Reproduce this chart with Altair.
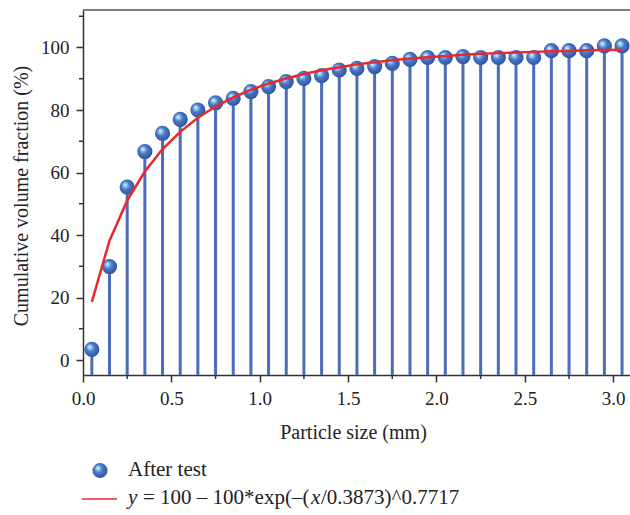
import altair as alt
import pandas as pd

# ---- data ----
sizes = [0.05, 0.15, 0.25, 0.35, 0.45, 0.55, 0.65, 0.75, 0.85, 0.95,
         1.05, 1.15, 1.25, 1.35, 1.45, 1.55, 1.65, 1.75, 1.85, 1.95,
         2.05, 2.15, 2.25, 2.35, 2.45, 2.55, 2.65, 2.75, 2.85, 2.95, 3.05]
after_test = [3.4, 29.9, 55.3, 66.7, 72.5, 77.0, 80.0, 82.3, 83.7, 85.9,
              87.5, 89.1, 90.1, 91.0, 92.8, 93.3, 93.9, 94.9, 96.2, 96.8,
              96.8, 97.1, 96.8, 96.8, 96.8, 96.8, 99.0, 99.0, 99.0, 100.5, 100.5]
fit_curve = [18.6, 38.2, 51.0, 60.3, 67.5, 73.0, 77.5, 81.1, 84.0, 86.5,
             88.5, 90.1, 91.5, 92.7, 93.7, 94.6, 95.3, 95.9, 96.5, 96.9,
             97.3, 97.7, 98.0, 98.2, 98.4, 98.6, 98.8, 98.9, 99.1, 99.2, 99.3]
x_major = [0.0, 0.5, 1.0, 1.5, 2.0, 2.5, 3.0]
x_minor = [0.25, 0.75, 1.25, 1.75, 2.25, 2.75]
y_major = [0, 20, 40, 60, 80, 100]
y_minor = [10, 30, 50, 70, 90, 110]
legend_points = "After test"
legend_line = ["y", "= 100 \u2013 100*exp(\u2013(", "x", "/0.3873)^0.7717"]

W, H = 547, 365
FONT = "Liberation Serif"
AX = "#333333"
STEM = "#4a6cbb"
RED = "#e8282c"

pts = pd.DataFrame({"size": sizes, "frac": after_test})
fit = pd.DataFrame({"size": sizes, "frac": fit_curve})

xscale = alt.Scale(domain=[0, 3.095], nice=False, zero=False)
yscale = alt.Scale(domain=[-4.8, 112], nice=False, zero=False)

xaxis = alt.Axis(values=x_major, format=".1f", tickSize=7, tickWidth=1.5,
                 tickColor=AX, domainColor=AX, domainWidth=1.5, grid=False,
                 labelFlush=False, labelOverlap=False,
                 labelFont=FONT, labelFontSize=19, labelColor="#222222",
                 labelPadding=7, title="Particle size (mm)", titleFont=FONT,
                 titleFontSize=20, titleFontWeight="normal", titleColor="#222222",
                 titleX=270, titleY=57, titleBaseline="middle", titleAlign="center")
yaxis = alt.Axis(values=y_major, tickSize=7, tickWidth=1.5, tickColor=AX,
                 domainColor=AX, domainWidth=1.5, grid=False,
                 labelFlush=False, labelOverlap=False,
                 labelFont=FONT, labelFontSize=19, labelColor="#222222",
                 labelPadding=7, title="Cumulative volume fraction (%)",
                 titleFont=FONT, titleFontSize=20, titleFontWeight="normal",
                 titleColor="#222222", titleX=-62, titleY=H / 2 + 3,
                 titleAngle=-90, titleBaseline="middle", titleAlign="center")

sphere_fill = {
    "gradient": "radial",
    "x1": 0.35, "y1": 0.33, "r1": 0.0,
    "x2": 0.45, "y2": 0.45, "r2": 0.6,
    "stops": [
        {"offset": 0.0, "color": "#f2fbff"},
        {"offset": 0.18, "color": "#8fd0f5"},
        {"offset": 0.45, "color": "#4d78c6"},
        {"offset": 1.0, "color": "#2b4f9c"},
    ],
}

stems = alt.Chart(pts).mark_rule(color=STEM, strokeWidth=3).encode(
    x=alt.X("size:Q", scale=xscale, axis=xaxis),
    y=alt.Y("frac:Q", scale=yscale, axis=yaxis),
    y2=alt.value(H),
)

spheres = alt.Chart(pts).mark_circle(fill=sphere_fill, opacity=1, size=230).encode(
    x=alt.X("size:Q", scale=xscale),
    y=alt.Y("frac:Q", scale=yscale),
)

curve = alt.Chart(fit).mark_line(color=RED, strokeWidth=2.5).encode(
    x=alt.X("size:Q", scale=xscale),
    y=alt.Y("frac:Q", scale=yscale),
)

xminor = alt.Chart(pd.DataFrame({"v": x_minor})).mark_rule(color=AX, strokeWidth=1.5).encode(
    x=alt.X("v:Q", scale=xscale), y=alt.value(H), y2=alt.value(H + 4)
)
yminor = alt.Chart(pd.DataFrame({"v": y_minor})).mark_rule(color=AX, strokeWidth=1.5).encode(
    y=alt.Y("v:Q", scale=yscale), x=alt.value(-4), x2=alt.value(0)
)
topline = alt.Chart(pd.DataFrame({"v": [0]})).mark_rule(color="#555555", strokeWidth=1.5).encode(
    x=alt.value(0), x2=alt.value(W + 5), y=alt.value(0)
)

one = pd.DataFrame({"k": [0]})
leg_sphere = alt.Chart(one).mark_circle(fill=sphere_fill, opacity=1, size=230).encode(
    x=alt.value(17), y=alt.value(460.5)
)
leg_text1 = alt.Chart(one).mark_text(
    text=legend_points, font=FONT, fontSize=21, align="left", baseline="middle", color="#222222"
).encode(x=alt.value(45), y=alt.value(460))
leg_line = alt.Chart(one).mark_rule(color=RED, strokeWidth=1.5).encode(
    x=alt.value(-1), x2=alt.value(34), y=alt.value(489)
)
seg_x = [45, 60, 228, 238]
seg_style = ["italic", "normal", "italic", "normal"]
leg_segs = [
    alt.Chart(one).mark_text(
        text=t, font=FONT, fontSize=21, fontStyle=s, align="left",
        baseline="middle", color="#222222"
    ).encode(x=alt.value(px), y=alt.value(488))
    for t, s, px in zip(legend_line, seg_style, seg_x)
]

chart = alt.layer(
    stems, spheres, curve, xminor, yminor, topline,
    leg_sphere, leg_text1, leg_line, *leg_segs
).properties(
    width=W, height=H,
    autosize=alt.AutoSizeParams(type="none"),
    padding={"left": 83, "top": 10, "right": 0, "bottom": 140},
).configure_view(strokeWidth=0)

chart.save("out.html", embed_options={"renderer": "svg", "actions": False})
